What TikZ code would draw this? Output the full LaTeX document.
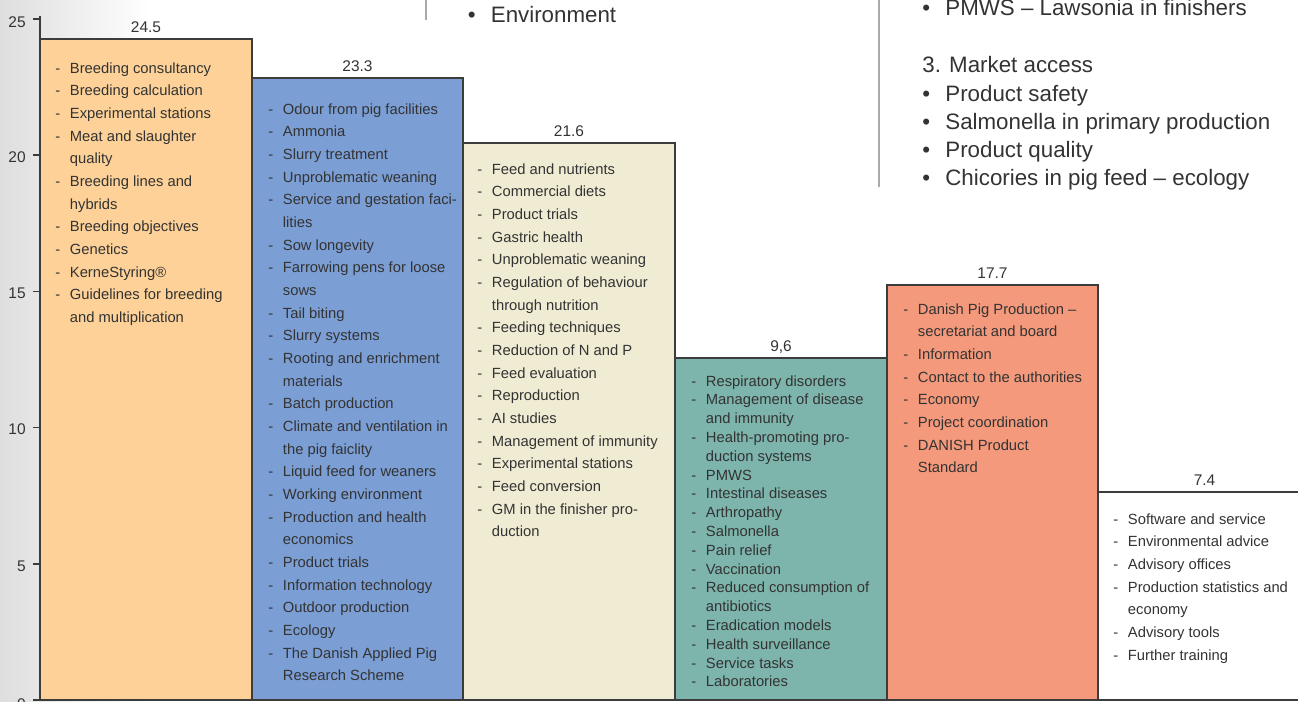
\documentclass[tikz,border=0pt]{standalone}
\usepackage{fontspec}
\setmainfont{Liberation Sans}
\usepackage{tikz}
\usepackage{xcolor}
\usetikzlibrary{calc}
\usetikzlibrary{positioning}

\definecolor{txtgray}{HTML}{333333}
\definecolor{linegray}{HTML}{3C3C3C}
\definecolor{sepgray}{HTML}{AAAAAA}
\definecolor{orangebar}{HTML}{FDD197}
\definecolor{bluebar}{HTML}{7B9ED5}
\definecolor{creambar}{HTML}{F0EBD3}
\definecolor{tealbar}{HTML}{7DB4AC}
\definecolor{salmonbar}{HTML}{F4997B}

\newcommand{\bitem}[1]{\makebox[8.3pt][l]{-}#1}
\newcommand{\bcont}[1]{\hspace*{8.3pt}#1}
\newcommand{\bul}[1]{\makebox[13.1pt][l]{\textbullet}#1}

\begin{document}
\begin{tikzpicture}[
  bar/.style={draw=linegray,line width=0.85pt},
  items/.style={anchor=north west,inner sep=0pt,align=left,text=txtgray,font=\fontsize{8.4}{12.9}\selectfont},
  val/.style={anchor=base,inner sep=0pt,text=txtgray,font=\fontsize{8.8}{10}\selectfont},
  ticklab/.style={anchor=east,inner sep=0pt,text=txtgray,font=\fontsize{8.8}{10}\selectfont},
  bigtext/.style={anchor=base west,inner sep=0pt,align=left,text=txtgray,font=\fontsize{12.7}{16.1}\selectfont}
]
\useasboundingbox (0,-0.04) rectangle (25.96,14);

% grey margin on the left
\shade[left color=black!13,right color=white] (0,-0.04) rectangle (3,14);

% separators of the text above
\draw[sepgray,line width=0.6pt] (8.52,14.1) -- (8.52,13.6);
\draw[sepgray,line width=0.6pt] (17.58,14.1) -- (17.58,10.26);

\node[bigtext] (env) at (9.35,13.54) {\bul{Environment}};
\node[bigtext] (pmws) at (18.44,13.68) {\bul{PMWS – Lawsonia in finishers}};
% base of a multi-line node is its last line
\node[bigtext] (market) at (18.44,10.28) {3. Market access\\
  \bul{Product safety}\\
  \bul{Salmonella in primary production}\\
  \bul{Product quality}\\
  \bul{Chicories in pig feed – ecology}};

% bars
\filldraw[bar,fill=orangebar] (0.8,0) rectangle (5.04,13.22);
\filldraw[bar,fill=bluebar] (5.04,0) rectangle (9.26,12.44);
\filldraw[bar,fill=creambar] (9.26,0) rectangle (13.5,11.14);
\filldraw[bar,fill=tealbar] (13.5,0) rectangle (17.74,6.84);
\filldraw[bar,fill=salmonbar] (17.74,0) rectangle (21.96,8.3);
\filldraw[bar,fill=white] (21.96,0) rectangle (26.2,4.16);

% values
\node[val] (v1) at (2.92,13.34) {24.5};
\node[val] (v2) at (7.15,12.56) {23.3};
\node[val] (v3) at (11.38,11.26) {21.6};
\node[val] (v4) at (15.62,6.96) {9,6};
\node[val] (v5) at (19.85,8.42) {17.7};
\node[val] (v6) at (24.09,4.28) {7.4};

% axis
\draw[linegray,line width=0.6pt] (0.8,0) -- (0.8,13.68);
\draw[linegray,line width=0.85pt] (0.66,0) -- (26.2,0);
\draw[linegray,line width=0.6pt] (0.66,2.72) -- (0.8,2.72);
\draw[linegray,line width=0.6pt] (0.66,5.45) -- (0.8,5.45);
\draw[linegray,line width=0.6pt] (0.66,8.17) -- (0.8,8.17);
\draw[linegray,line width=0.6pt] (0.66,10.9) -- (0.8,10.9);
\draw[linegray,line width=0.6pt] (0.66,13.62) -- (0.8,13.62);
\node[ticklab] (t0) at (0.52,-0.08) {0};
\node[ticklab] (t5) at (0.52,2.68) {5};
\node[ticklab] (t10) at (0.52,5.41) {10};
\node[ticklab] (t15) at (0.52,8.13) {15};
\node[ticklab] (t20) at (0.52,10.86) {20};
\node[ticklab] (t25) at (0.52,13.56) {25};

% contents of the bars
\node[items] (breeding) at (1.1,12.76) {\bitem{Breeding consultancy}\\
  \bitem{Breeding calculation}\\
  \bitem{Experimental stations}\\
  \bitem{Meat and slaughter}\\
  \bcont{quality}\\
  \bitem{Breeding lines and}\\
  \bcont{hybrids}\\
  \bitem{Breeding objectives}\\
  \bitem{Genetics}\\
  \bitem{KerneStyring®}\\
  \bitem{Guidelines for breeding}\\
  \bcont{and multiplication}};

\node[items] (housing) at (5.36,11.94) {\bitem{Odour from pig facilities}\\
  \bitem{Ammonia}\\
  \bitem{Slurry treatment}\\
  \bitem{Unproblematic weaning}\\
  \bitem{Service and gestation faci-}\\
  \bcont{lities}\\
  \bitem{Sow longevity}\\
  \bitem{Farrowing pens for loose}\\
  \bcont{sows}\\
  \bitem{Tail biting}\\
  \bitem{Slurry systems}\\
  \bitem{Rooting and enrichment}\\
  \bcont{materials}\\
  \bitem{Batch production}\\
  \bitem{Climate and ventilation in}\\
  \bcont{the pig faiclity}\\
  \bitem{Liquid feed for weaners}\\
  \bitem{Working environment}\\
  \bitem{Production and health}\\
  \bcont{economics}\\
  \bitem{Product trials}\\
  \bitem{Information technology}\\
  \bitem{Outdoor production}\\
  \bitem{Ecology}\\
  \bitem{The Danish Applied Pig}\\
  \bcont{Research Scheme}};

\node[items] (feed) at (9.54,10.74) {\bitem{Feed and nutrients}\\
  \bitem{Commercial diets}\\
  \bitem{Product trials}\\
  \bitem{Gastric health}\\
  \bitem{Unproblematic weaning}\\
  \bitem{Regulation of behaviour}\\
  \bcont{through nutrition}\\
  \bitem{Feeding techniques}\\
  \bitem{Reduction of N and P}\\
  \bitem{Feed evaluation}\\
  \bitem{Reproduction}\\
  \bitem{AI studies}\\
  \bitem{Management of immunity}\\
  \bitem{Experimental stations}\\
  \bitem{Feed conversion}\\
  \bitem{GM in the finisher pro-}\\
  \bcont{duction}};

\node[items,font=\fontsize{8.4}{10.7}\selectfont] (health) at (13.82,6.5) {\bitem{Respiratory disorders}\\
  \bitem{Management of disease}\\
  \bcont{and immunity}\\
  \bitem{Health-promoting pro-}\\
  \bcont{duction systems}\\
  \bitem{PMWS}\\
  \bitem{Intestinal diseases}\\
  \bitem{Arthropathy}\\
  \bitem{Salmonella}\\
  \bitem{Pain relief}\\
  \bitem{Vaccination}\\
  \bitem{Reduced consumption of}\\
  \bcont{antibiotics}\\
  \bitem{Eradication models}\\
  \bitem{Health surveillance}\\
  \bitem{Service tasks}\\
  \bitem{Laboratories}};

\node[items] (board) at (18.06,7.94) {\bitem{Danish Pig Production –}\\
  \bcont{secretariat and board}\\
  \bitem{Information}\\
  \bitem{Contact to the authorities}\\
  \bitem{Economy}\\
  \bitem{Project coordination}\\
  \bitem{DANISH Product}\\
  \bcont{Standard}};

\node[items] (advice) at (22.26,3.74) {\bitem{Software and service}\\
  \bitem{Environmental advice}\\
  \bitem{Advisory offices}\\
  \bitem{Production statistics and}\\
  \bcont{economy}\\
  \bitem{Advisory tools}\\
  \bitem{Further training}};

\end{tikzpicture}
\end{document}
